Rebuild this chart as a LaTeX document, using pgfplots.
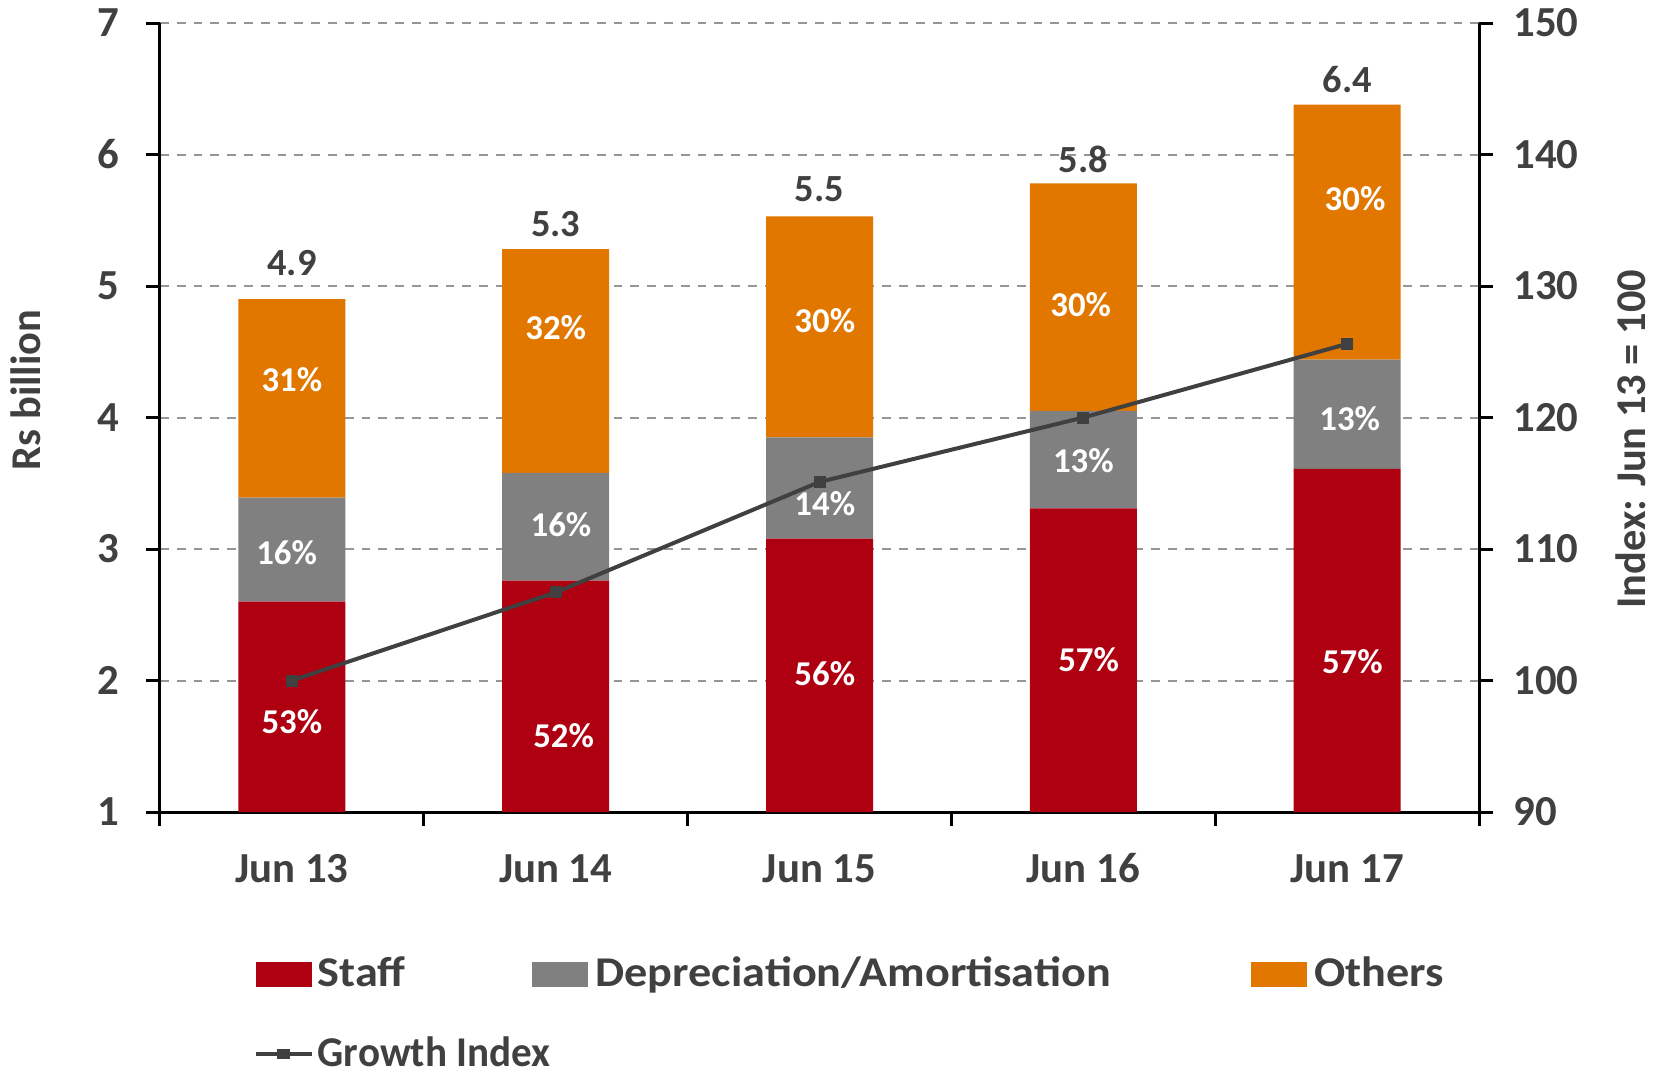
\documentclass[border=0pt]{standalone}
\usepackage{graphicx}
\usepackage{pgfplots}
\pgfplotsset{compat=1.18}
\usepackage{fontspec}
\setmainfont{Carlito}
\definecolor{staff}{RGB}{174,0,16}
\definecolor{dep}{RGB}{128,128,128}
\definecolor{oth}{RGB}{226,119,0}
\definecolor{txt}{RGB}{64,64,64}
\definecolor{gridc}{RGB}{150,150,150}
\pgfplotsset{
  barleg/.style={legend image code/.code={\fill[##1] (0pt,-3.1pt) rectangle (14pt,3.1pt);}},
  lineleg/.style={legend image code/.code={\draw[txt, line width=1pt] (0pt,0pt) -- (14pt,0pt); \fill[txt] (5.6pt,-1.1pt) rectangle (8.4pt,1.1pt);}},
  common/.style={
    at={(0,0)}, anchor=south west,
    scale only axis, width=329.75pt, height=197.25pt,
    xmin=-0.5, xmax=4.5,
    tick align=outside, major tick length=3.5pt,
    tick style={black, line width=0.75pt},
    axis line style={black, line width=0.75pt},
    /pgf/number format/assume math mode=true,
    ticklabel style={font=\fontsize{10.7}{12}\selectfont\bfseries, text=txt},
    label style={font=\fontsize{10.6}{12}\selectfont\bfseries, text=txt},
  }
}
\newcommand{\pct}[3]{\node[font=\fontsize{8.7}{10}\selectfont\bfseries, text=white] at (axis cs:#1,#2) {#3\%};}
\newcommand{\tot}[3]{\node[font=\fontsize{9.6}{11}\selectfont\bfseries, text=txt] at (axis cs:#1,#2) {#3};}
\newcommand{\wide}[1]{\scalebox{1.09}[1]{#1}}
\begin{document}
\begin{tikzpicture}
\begin{axis}[common,
  ymin=1, ymax=7, ytick={1,...,7},
  ybar stacked, bar width=26.75pt,
  axis x line*=bottom, axis y line*=left,
  yticklabel style={xshift=-3.2pt},
  xtick={-0.5,0.5,1.5,2.5,3.5,4.5}, xticklabels={},
  extra x ticks={0,1,2,3,4},
  extra x tick labels={Jun 13,Jun 14,Jun 15,Jun 16,Jun 17},
  extra x tick style={major tick length=0pt,
    xticklabel style={anchor=north, text height=7.6pt, text depth=2pt, yshift=-6.6pt}},
  ymajorgrids, grid style={gridc, line width=0.5pt, dash pattern=on 2.2pt off 2pt},
  ylabel={Rs billion},
  ylabel style={at={(axis description cs:-0.1016,0.535)}, anchor=center},
  legend columns=3,
  legend style={at={(axis description cs:0.0705,-0.172)}, anchor=north west,
    draw=none, fill=none, inner sep=0pt,
    font=\fontsize{10.6}{12}\selectfont\bfseries, text=txt,
    cells={anchor=west},
    /tikz/every even column/.append style={column sep=0pt},
    row sep=7pt},
]
\addplot[fill=staff, draw=none, barleg] coordinates {(0,2.60) (1,2.76) (2,3.08) (3,3.31) (4,3.61)};
\addlegendentry{\hspace*{-1pt}\makebox[51.45pt][l]{\wide{Staff}}}
\addplot[fill=dep, draw=none, barleg] coordinates {(0,0.79) (1,0.82) (2,0.77) (3,0.74) (4,0.83)};
\addlegendentry{\makebox[161.75pt][l]{\wide{Depreciation/Amortisation}}}
\addplot[fill=oth, draw=none, barleg] coordinates {(0,1.51) (1,1.70) (2,1.68) (3,1.73) (4,1.94)};
\addlegendentry{\wide{Others}}
\addlegendimage{lineleg}
\addlegendentry{\makebox[0pt][l]{\hspace*{-1pt}\scalebox{0.97}[1]{Growth Index}}}
\end{axis}
\begin{axis}[common,
  ymin=90, ymax=150, ytick={90,100,...,150},
  axis y line*=right, axis x line=none,
  yticklabel style={xshift=1.6pt},
  ylabel={Index: Jun 13 = 100},
  ylabel style={at={(axis description cs:1.115,0.4725)}, anchor=center},
]
\addplot[color=txt, line width=1pt, mark=square*, mark size=1pt] coordinates {(0,100) (1,106.7) (2,115.1) (3,120.0) (4,125.6)};
\pct{0}{122.85}{31}\pct{-0.02}{109.76}{16}\pct{0}{96.9}{53}
\pct{1}{126.87}{32}\pct{1.02}{111.85}{16}\pct{1.03}{95.78}{52}
\pct{2.02}{127.35}{30}\pct{2.02}{113.45}{14}\pct{2.02}{100.52}{56}
\pct{2.99}{128.55}{30}\pct{3}{116.75}{13}\pct{3.02}{101.57}{57}
\pct{4.03}{136.67}{30}\pct{4.01}{119.88}{13}\pct{4.02}{101.4}{57}
\tot{0}{131.77}{4.9}\tot{1}{134.74}{5.3}\tot{2}{137.39}{5.5}\tot{3}{139.64}{5.8}\tot{4}{145.74}{6.4}
\end{axis}
\pgfresetboundingbox
\path (-40pt,-65.25pt) rectangle (373.75pt,203pt);
\end{tikzpicture}
\end{document}
